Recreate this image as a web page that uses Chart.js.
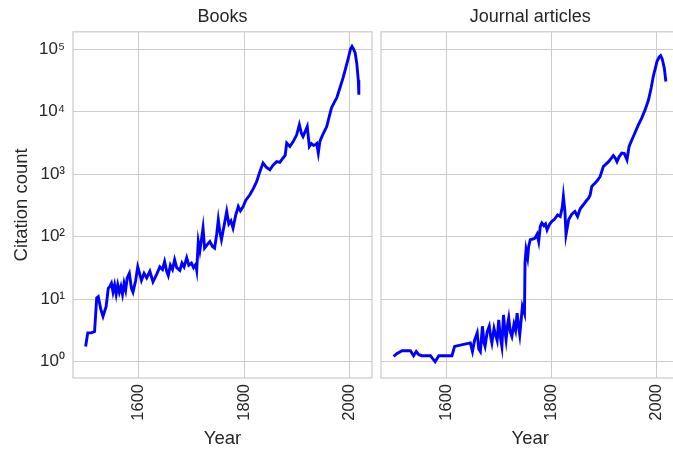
<!DOCTYPE html>
<html>
<head>
<meta charset="utf-8">
<script src="https://cdn.jsdelivr.net/npm/chart.js"></script>
<style>
  html, body { margin: 0; padding: 0; background: #fff; overflow: hidden; }
  #wrap { position: relative; width: 673px; height: 449px; overflow: hidden; }
  canvas { position: absolute; top: 0; }
</style>
</head>
<body>
<div id="wrap">
  <canvas id="books" width="376" height="449" style="left:0"></canvas>
  <canvas id="journals" width="306" height="449" style="left:377px"></canvas>
</div>
<script>
// values (log scale)
const booksYears = [1499, 1503, 1510, 1516, 1520, 1523, 1528, 1532, 1538, 1542, 1545, 1548, 1551, 1554, 1557,
  1560, 1563, 1566, 1569, 1572, 1575, 1578, 1582, 1586, 1589, 1594, 1598, 1602, 1605, 1610, 1615, 1621, 1627,
  1633, 1640, 1645, 1649, 1653, 1656, 1660, 1664, 1668, 1672, 1678, 1682, 1686, 1691, 1695, 1700, 1704, 1708,
  1710, 1713, 1716, 1719, 1722, 1725, 1730, 1735, 1740, 1744, 1748, 1751, 1754, 1757, 1762, 1767, 1771, 1775,
  1779, 1784, 1789, 1793, 1798, 1803, 1811, 1818, 1824, 1830, 1836, 1842, 1849, 1855, 1862, 1868, 1874, 1878,
  1881, 1887, 1893, 1900, 1905, 1909, 1912, 1916, 1920, 1924, 1928, 1932, 1935, 1938, 1941, 1944, 1950, 1957,
  1962, 1966, 1971, 1976, 1982, 1988, 1993, 1998, 2002, 2005, 2008, 2011, 2014, 2017, 2018];
const booksCounts = [1.76, 2.9, 2.9, 3.05, 10.5, 11, 6.8, 5.3, 7.7, 15, 16, 18, 13, 17, 12,
  17, 13, 16, 12, 18, 14, 22, 26, 15, 13, 20, 33, 25, 20, 26, 22, 28, 19,
  24, 33, 30, 40, 28, 24, 35, 30, 43, 32, 29, 38, 33, 46, 35, 38, 32, 36,
  29, 84, 60, 90, 138, 66, 75, 84, 70, 66, 110, 187, 120, 90, 150, 254, 160, 180,
  138, 220, 305, 260, 300, 380, 470, 600, 767, 1100, 1515, 1300, 1180, 1400, 1590, 1550, 1820, 2000,
  3160, 2780, 3300, 4270, 6200, 4500, 4000, 4800, 5800, 2780, 3100, 2900, 2960, 3100, 2180, 3350, 4400, 5800,
  8500, 11500, 14000, 16600, 24000, 34700, 50000, 72000, 100000, 111000, 100000, 87000, 60000, 32000, 18700];

const journalYears = [1499, 1505, 1515, 1525, 1531, 1537, 1542, 1547, 1553, 1569, 1578, 1585, 1610, 1615, 1645,
  1649, 1653, 1658, 1661, 1664, 1668, 1671, 1673, 1677, 1681, 1684, 1686, 1690, 1692, 1696, 1699, 1702, 1705,
  1708, 1711, 1713, 1716, 1718, 1721, 1724, 1728, 1731, 1734, 1737, 1739, 1742, 1744, 1748, 1749, 1751, 1754,
  1756, 1759, 1764, 1768, 1772, 1775, 1778, 1781, 1785, 1788, 1791, 1796, 1800, 1805, 1811, 1816, 1820, 1822,
  1825, 1827, 1830, 1832, 1838, 1844, 1849, 1854, 1860, 1866, 1870, 1873, 1876, 1882, 1887, 1892, 1898, 1903,
  1908, 1913, 1917, 1921, 1924, 1928, 1933, 1938, 1943, 1947, 1952, 1958, 1964, 1971, 1978, 1984, 1989, 1993,
  1997, 2000, 2004, 2007, 2010, 2014, 2017];
const journalCounts = [1.22, 1.35, 1.5, 1.5, 1.5, 1.25, 1.46, 1.3, 1.25, 1.25, 1.0, 1.25, 1.25, 1.76, 2.0,
  1.46, 2.2, 2.9, 1.6, 1.46, 3.7, 2.0, 1.76, 3.0, 3.7, 2.4, 2.0, 3.4, 2.9, 2.2, 4.7, 2.5, 1.76,
  5.6, 3.0, 2.25, 4.0, 5.0, 3.0, 2.54, 4.0, 3.2, 6.0, 3.5, 2.7, 5.0, 7.7, 6.0, 38, 62, 46,
  70, 90, 92, 95, 110, 84, 146, 166, 150, 160, 129, 160, 176, 190, 224, 211, 300, 441,
  250, 108, 150, 187, 230, 254, 211, 280, 325, 380, 415, 470, 640, 720, 800, 922, 1330, 1450,
  1590, 1800, 1990, 1800, 1590, 1900, 2180, 2140, 1700, 2780, 3500, 4570, 6000, 7900, 11000, 15500, 24000, 36600,
  50000, 63500, 75000, 79000, 69700, 50000, 30500];

const yearTicks = [1600, 1800, 2000];
const countTicks = [1, 10, 100, 1000, 10000, 100000];
const superDigits = ['⁰', '¹', '²', '³', '⁴', '⁵'];

const textColor = '#262626';
const gridColor = '#cccccc';
const fontFamily = '"Liberation Sans", Arial, sans-serif';

// light grey frame round the plot area, like the seaborn whitegrid spines
const framePlugin = {
  id: 'frame',
  beforeDatasetsDraw(chart) {
    const {ctx, chartArea: a} = chart;
    ctx.save();
    ctx.strokeStyle = gridColor;
    ctx.lineWidth = 1.25;
    ctx.strokeRect(a.left, a.top, a.right - a.left, a.bottom - a.top);
    ctx.restore();
  }
};

function makePanel(id, title, years, counts, showY) {
  return new Chart(document.getElementById(id), {
    type: 'line',
    data: {
      datasets: [{
        data: years.map((y, i) => ({x: y, y: counts[i]})),
        borderColor: '#0000ff',
        borderWidth: 2.9,
        pointRadius: 0,
        tension: 0,
        fill: false
      }]
    },
    options: {
      responsive: false,
      animation: false,
      layout: { padding: { left: 0, right: showY ? 4 : 3, top: 0, bottom: 0 } },
      plugins: {
        legend: { display: false },
        tooltip: { enabled: false },
        title: {
          display: true,
          text: title,
          fullSize: false,
          color: textColor,
          font: { family: fontFamily, size: 18, weight: 'normal', lineHeight: 1.1 },
          padding: { top: 7, bottom: 5 }
        }
      },
      scales: {
        x: {
          type: 'linear',
          min: 1475,
          max: 2043,
          afterBuildTicks: s => { s.ticks = yearTicks.map(v => ({value: v})); },
          afterFit: s => { s.height = 71; },
          grid: { color: gridColor, lineWidth: 1, drawTicks: false },
          border: { display: false },
          ticks: {
            minRotation: 90,
            maxRotation: 90,
            padding: 6,
            color: textColor,
            font: { family: fontFamily, size: 16.5 },
            callback: v => String(v)
          },
          title: {
            display: true,
            text: 'Year',
            color: textColor,
            font: { family: fontFamily, size: 18.5, lineHeight: 1.1 },
            padding: { top: 0, bottom: 0 }
          }
        },
        y: {
          type: 'logarithmic',
          min: 0.55,
          max: 190000,
          afterBuildTicks: s => { s.ticks = countTicks.map(v => ({value: v})); },
          afterFit: s => { s.width = showY ? 73 : 4; },
          grid: { color: gridColor, lineWidth: 1, drawTicks: false },
          border: { display: false },
          ticks: {
            display: showY,
            padding: 8,
            color: textColor,
            font: { family: fontFamily, size: 17 },
            callback: v => '10' + superDigits[Math.round(Math.log10(v))]
          },
          title: {
            display: showY,
            text: 'Citation count',
            color: textColor,
            font: { family: fontFamily, size: 18.5, lineHeight: 1.1 },
            padding: { top: 12, bottom: 0 }
          }
        }
      }
    },
    plugins: [framePlugin]
  });
}

makePanel('books', 'Books', booksYears, booksCounts, true);
makePanel('journals', 'Journal articles', journalYears, journalCounts, false);
</script>
</body>
</html>
